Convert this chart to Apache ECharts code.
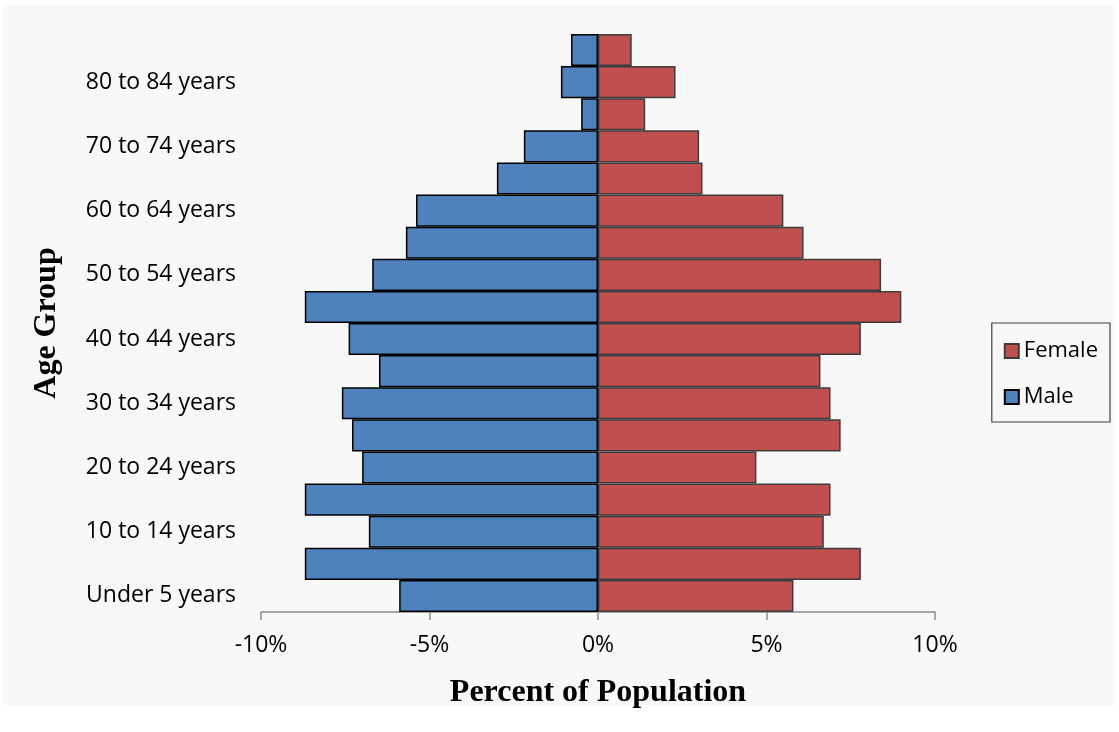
<!DOCTYPE html>
<html>
<head>
<meta charset="utf-8">
<script src="https://cdn.jsdelivr.net/npm/echarts@6/dist/echarts.min.js"></script>
<style>
  html, body { margin: 0; padding: 0; background: #ffffff; }
  #chart { width: 1119px; height: 732px; }
</style>
</head>
<body>
<div id="chart"></div>
<script>
// Age groups, youngest first (bottom of the pyramid)
const ageGroups = [
  'Under 5 years', '5 to 9 years', '10 to 14 years', '15 to 19 years',
  '20 to 24 years', '25 to 29 years', '30 to 34 years', '35 to 39 years',
  '40 to 44 years', '45 to 49 years', '50 to 54 years', '55 to 59 years',
  '60 to 64 years', '65 to 69 years', '70 to 74 years', '75 to 79 years',
  '80 to 84 years', '85 years and over'
];

// Percent of population; male shares are negative so they extend left
const maleShare = [
  -5.9, -8.7, -6.8, -8.7, -7.0, -7.3, -7.6, -6.5, -7.4,
  -8.7, -6.7, -5.7, -5.4, -3.0, -2.2, -0.5, -1.1, -0.8
];
const femaleShare = [
  5.8, 7.8, 6.7, 6.9, 4.7, 7.2, 6.9, 6.6, 7.8,
  9.0, 8.4, 6.1, 5.5, 3.1, 3.0, 1.4, 2.3, 1.0
];

// Percent axis ticks
const percentTicks = [-10, -5, 0, 5, 10];

const chart = echarts.init(document.getElementById('chart'), null, { renderer: 'canvas' });

const labelFont = '"Open Sans", Lato, sans-serif';
const titleFont = '"Liberation Serif", "DejaVu Serif", serif';

chart.setOption({
  backgroundColor: '#ffffff',
  animation: false,
  graphic: [{
    type: 'rect',
    z: -10,
    shape: { x: 3, y: 5, width: 1111, height: 700 },
    style: { fill: '#f8f8f8' }
  }],
  grid: { left: 261, right: 184, top: 34, bottom: 120 },
  legend: {
    orient: 'vertical',
    right: 9,
    top: 323,
    padding: [17, 12, 14, 12],
    itemGap: 24,
    itemWidth: 14,
    itemHeight: 14,
    borderColor: '#404040',
    borderWidth: 1.2,
    icon: 'rect',
    data: ['Female', 'Male'],
    textStyle: { fontFamily: labelFont, fontSize: 22, color: '#000' }
  },
  xAxis: {
    type: 'value',
    min: percentTicks[0],
    max: percentTicks[percentTicks.length - 1],
    interval: 5,
    name: 'Percent of Population',
    nameLocation: 'middle',
    nameGap: 65,
    nameTextStyle: { fontFamily: titleFont, fontWeight: 'bold', fontSize: 32, color: '#000' },
    axisLine: { show: true, onZero: false, lineStyle: { color: '#8c8c8c', width: 1.5 } },
    axisTick: { show: true, length: 8, lineStyle: { color: '#8c8c8c', width: 1.5 } },
    axisLabel: {
      margin: 22,
      fontFamily: labelFont, fontSize: 23, color: '#000',
      formatter: v => v + '%'
    },
    splitLine: { show: false }
  },
  yAxis: {
    type: 'category',
    data: ageGroups,
    name: 'Age Group',
    nameLocation: 'middle',
    nameGap: 198,
    nameRotate: 90,
    nameTextStyle: { fontFamily: titleFont, fontWeight: 'bold', fontSize: 32, color: '#000' },
    axisLine: { show: false, onZero: false },
    axisTick: { show: false },
    axisLabel: {
      interval: 1,
      margin: 25,
      fontFamily: labelFont, fontSize: 23, color: '#000'
    },
    splitLine: { show: false }
  },
  series: [
    {
      name: 'Male',
      type: 'bar',
      stack: 'pyramid',
      barCategoryGap: '0%',
      data: maleShare,
      itemStyle: { color: '#4f81bd', borderColor: '#000000', borderWidth: 1.5 }
    },
    {
      name: 'Female',
      type: 'bar',
      stack: 'pyramid',
      barCategoryGap: '0%',
      data: femaleShare,
      itemStyle: { color: '#c0504d', borderColor: '#3c3c3c', borderWidth: 1.5 }
    }
  ]
});
</script>
</body>
</html>
